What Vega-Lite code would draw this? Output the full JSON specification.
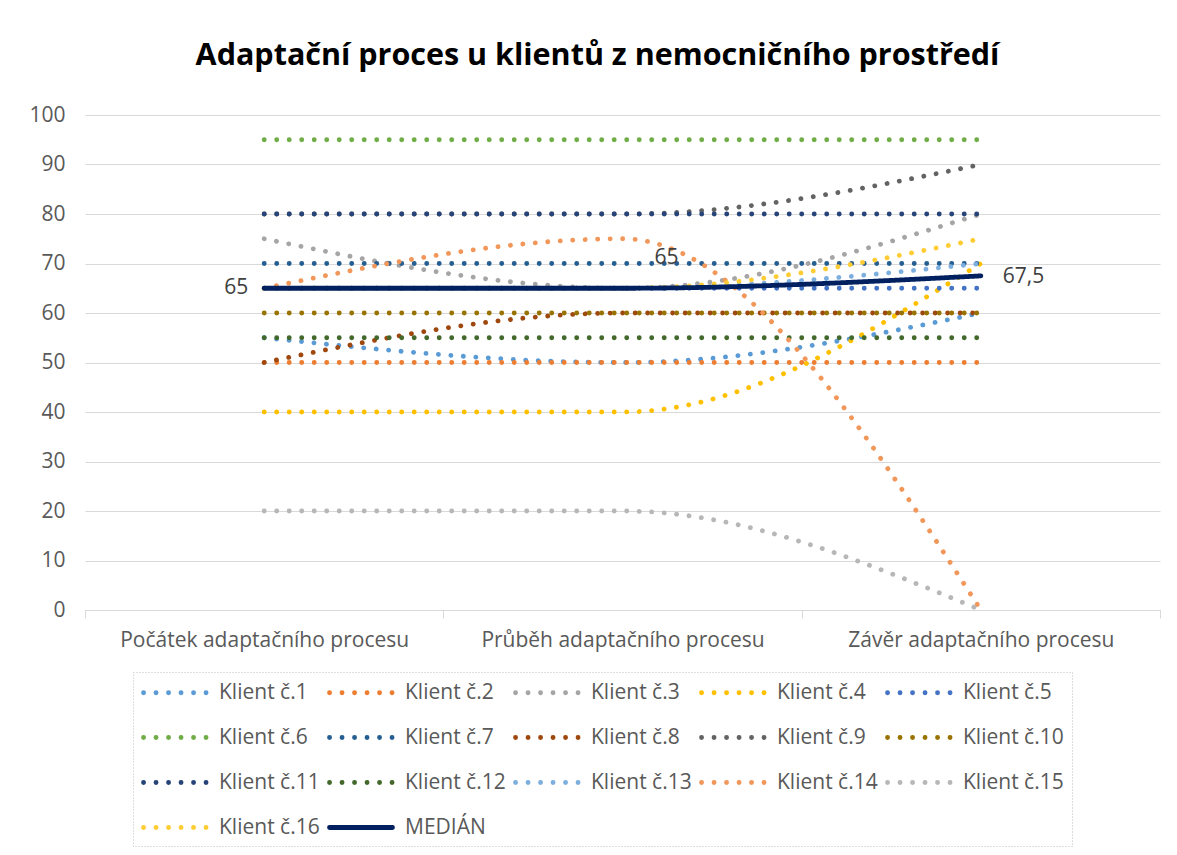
{
  "$schema": "https://vega.github.io/schema/vega-lite/v6.json",
  "width": 1075,
  "height": 495,
  "autosize": "none",
  "padding": {"left": 85, "top": 115, "right": 17, "bottom": 245},
  "background": "white",
  "title": {
    "text": "Adaptační proces u klientů z nemocničního prostředí",
    "font": "Open Sans",
    "fontSize": 30.5,
    "fontWeight": "bold",
    "color": "#000000",
    "anchor": "middle",
    "dx": -25,
    "offset": 33
  },
  "config": {
    "locale": {"number": {"decimal": ",", "thousands": " ", "grouping": [3], "currency": ["", " Kč"]}},
    "view": {"stroke": null},
    "font": "Open Sans",
    "axis": {"labelFont": "Open Sans", "labelFontSize": 21, "labelColor": "#595959", "gridColor": "#D9D9D9", "domainColor": "#D9D9D9", "tickColor": "#D9D9D9", "labelLimit": 500},
    "legend": {"strokeColor": "#BFBFBF", "strokeDash": [1, 2], "strokeWidth": 1}
  },
  "data": {
    "values": [
      {"klient": "Klient č.1", "faze": "Počátek adaptačního procesu", "hodnota": 55},
      {"klient": "Klient č.1", "faze": "Průběh adaptačního procesu", "hodnota": 50},
      {"klient": "Klient č.1", "faze": "Závěr adaptačního procesu", "hodnota": 60},
      {"klient": "Klient č.2", "faze": "Počátek adaptačního procesu", "hodnota": 50},
      {"klient": "Klient č.2", "faze": "Průběh adaptačního procesu", "hodnota": 50},
      {"klient": "Klient č.2", "faze": "Závěr adaptačního procesu", "hodnota": 50},
      {"klient": "Klient č.3", "faze": "Počátek adaptačního procesu", "hodnota": 75},
      {"klient": "Klient č.3", "faze": "Průběh adaptačního procesu", "hodnota": 65},
      {"klient": "Klient č.3", "faze": "Závěr adaptačního procesu", "hodnota": 80},
      {"klient": "Klient č.4", "faze": "Počátek adaptačního procesu", "hodnota": 40},
      {"klient": "Klient č.4", "faze": "Průběh adaptačního procesu", "hodnota": 40},
      {"klient": "Klient č.4", "faze": "Závěr adaptačního procesu", "hodnota": 70},
      {"klient": "Klient č.5", "faze": "Počátek adaptačního procesu", "hodnota": 65},
      {"klient": "Klient č.5", "faze": "Průběh adaptačního procesu", "hodnota": 65},
      {"klient": "Klient č.5", "faze": "Závěr adaptačního procesu", "hodnota": 65},
      {"klient": "Klient č.6", "faze": "Počátek adaptačního procesu", "hodnota": 95},
      {"klient": "Klient č.6", "faze": "Průběh adaptačního procesu", "hodnota": 95},
      {"klient": "Klient č.6", "faze": "Závěr adaptačního procesu", "hodnota": 95},
      {"klient": "Klient č.7", "faze": "Počátek adaptačního procesu", "hodnota": 70},
      {"klient": "Klient č.7", "faze": "Průběh adaptačního procesu", "hodnota": 70},
      {"klient": "Klient č.7", "faze": "Závěr adaptačního procesu", "hodnota": 70},
      {"klient": "Klient č.8", "faze": "Počátek adaptačního procesu", "hodnota": 50},
      {"klient": "Klient č.8", "faze": "Průběh adaptačního procesu", "hodnota": 60},
      {"klient": "Klient č.8", "faze": "Závěr adaptačního procesu", "hodnota": 60},
      {"klient": "Klient č.9", "faze": "Počátek adaptačního procesu", "hodnota": 80},
      {"klient": "Klient č.9", "faze": "Průběh adaptačního procesu", "hodnota": 80},
      {"klient": "Klient č.9", "faze": "Závěr adaptačního procesu", "hodnota": 90},
      {"klient": "Klient č.10", "faze": "Počátek adaptačního procesu", "hodnota": 60},
      {"klient": "Klient č.10", "faze": "Průběh adaptačního procesu", "hodnota": 60},
      {"klient": "Klient č.10", "faze": "Závěr adaptačního procesu", "hodnota": 60},
      {"klient": "Klient č.11", "faze": "Počátek adaptačního procesu", "hodnota": 80},
      {"klient": "Klient č.11", "faze": "Průběh adaptačního procesu", "hodnota": 80},
      {"klient": "Klient č.11", "faze": "Závěr adaptačního procesu", "hodnota": 80},
      {"klient": "Klient č.12", "faze": "Počátek adaptačního procesu", "hodnota": 55},
      {"klient": "Klient č.12", "faze": "Průběh adaptačního procesu", "hodnota": 55},
      {"klient": "Klient č.12", "faze": "Závěr adaptačního procesu", "hodnota": 55},
      {"klient": "Klient č.13", "faze": "Počátek adaptačního procesu", "hodnota": 65},
      {"klient": "Klient č.13", "faze": "Průběh adaptačního procesu", "hodnota": 65},
      {"klient": "Klient č.13", "faze": "Závěr adaptačního procesu", "hodnota": 70},
      {"klient": "Klient č.14", "faze": "Počátek adaptačního procesu", "hodnota": 65},
      {"klient": "Klient č.14", "faze": "Průběh adaptačního procesu", "hodnota": 75},
      {"klient": "Klient č.14", "faze": "Závěr adaptačního procesu", "hodnota": 0},
      {"klient": "Klient č.15", "faze": "Počátek adaptačního procesu", "hodnota": 20},
      {"klient": "Klient č.15", "faze": "Průběh adaptačního procesu", "hodnota": 20},
      {"klient": "Klient č.15", "faze": "Závěr adaptačního procesu", "hodnota": 0},
      {"klient": "Klient č.16", "faze": "Počátek adaptačního procesu", "hodnota": 65},
      {"klient": "Klient č.16", "faze": "Průběh adaptačního procesu", "hodnota": 65},
      {"klient": "Klient č.16", "faze": "Závěr adaptačního procesu", "hodnota": 75},
      {"klient": "MEDIÁN", "faze": "Počátek adaptačního procesu", "hodnota": 65},
      {"klient": "MEDIÁN", "faze": "Průběh adaptačního procesu", "hodnota": 65},
      {"klient": "MEDIÁN", "faze": "Závěr adaptačního procesu", "hodnota": 67.5}
    ]
  },
  "encoding": {
    "x": {
      "field": "faze", "type": "nominal", "sort": null,
      "scale": {"type": "band", "paddingInner": 0, "paddingOuter": 0},
      "axis": {"title": null, "labelAngle": 0, "tickBand": "extent", "tickSize": 8, "labelPadding": 11, "grid": false, "domain": true}
    },
    "y": {
      "field": "hodnota", "type": "quantitative",
      "scale": {"domain": [0, 100], "nice": false},
      "axis": {"title": null, "values": [0, 10, 20, 30, 40, 50, 60, 70, 80, 90, 100], "ticks": false, "domain": false, "labelPadding": 20, "grid": true}
    }
  },
  "layer": [
    {
      "transform": [{"filter": "datum.klient !== 'MEDIÁN'"}],
      "mark": {"type": "line", "interpolate": "monotone", "strokeCap": "round"},
      "encoding": {
        "color": {"field": "klient", "type": "nominal", "title": null,
          "scale": {
            "domain": ["Klient č.1", "Klient č.2", "Klient č.3", "Klient č.4", "Klient č.5", "Klient č.6", "Klient č.7", "Klient č.8", "Klient č.9", "Klient č.10", "Klient č.11", "Klient č.12", "Klient č.13", "Klient č.14", "Klient č.15", "Klient č.16", "MEDIÁN"],
            "range": ["#5B9BD5", "#ED7D31", "#A5A5A5", "#FFC000", "#4472C4", "#70AD47", "#255E91", "#9E480E", "#636363", "#997300", "#264478", "#43682B", "#7CAFDD", "#F1975A", "#B7B7B7", "#FFCD33", "#002060"]
          },
          "legend": {
            "orient": "none", "legendX": 48, "legendY": 557, "columns": 5, "direction": "horizontal",
            "symbolType": "M-1,0H5.3", "symbolSize": 400,
            "labelFont": "Open Sans", "labelFontSize": 21, "labelColor": "#595959",
            "labelOffset": 53, "columnPadding": -1, "rowPadding": 22, "padding": 8, "labelLimit": 200,
            "encoding": {"symbols": {"strokeCap": {"value": "round"}}}
          }
        },
        "strokeDash": {"field": "klient", "type": "nominal",
          "scale": {
            "domain": ["Klient č.1", "Klient č.2", "Klient č.3", "Klient č.4", "Klient č.5", "Klient č.6", "Klient č.7", "Klient č.8", "Klient č.9", "Klient č.10", "Klient č.11", "Klient č.12", "Klient č.13", "Klient č.14", "Klient č.15", "Klient č.16", "MEDIÁN"],
            "range": [[0.1, 12.4], [0.1, 12.4], [0.1, 12.4], [0.1, 12.4], [0.1, 12.4], [0.1, 12.4], [0.1, 12.4], [0.1, 12.4], [0.1, 12.4], [0.1, 12.4], [0.1, 12.4], [0.1, 12.4], [0.1, 12.4], [0.1, 12.4], [0.1, 12.4], [0.1, 12.4], [1, 0]]
          }
        },
        "strokeWidth": {"field": "klient", "type": "nominal",
          "scale": {
            "domain": ["Klient č.1", "Klient č.2", "Klient č.3", "Klient č.4", "Klient č.5", "Klient č.6", "Klient č.7", "Klient č.8", "Klient č.9", "Klient č.10", "Klient č.11", "Klient č.12", "Klient č.13", "Klient č.14", "Klient č.15", "Klient č.16", "MEDIÁN"],
            "range": [4.8, 4.8, 4.8, 4.8, 4.8, 4.8, 4.8, 4.8, 4.8, 4.8, 4.8, 4.8, 4.8, 4.8, 4.8, 4.8, 7]
          }
        }
      }
    },
    {
      "transform": [{"filter": "datum.klient === 'MEDIÁN'"}],
      "mark": {"type": "line", "interpolate": "monotone", "strokeCap": "round"},
      "encoding": {
        "color": {"field": "klient", "type": "nominal", "title": null},
        "strokeDash": {"field": "klient", "type": "nominal"},
        "strokeWidth": {"field": "klient", "type": "nominal"}
      }
    },
    {
      "transform": [{"filter": "datum.klient === 'MEDIÁN' && datum.faze === 'Počátek adaptačního procesu'"}],
      "mark": {"type": "text", "align": "right", "baseline": "middle", "dx": -16, "fontSize": 21, "color": "#404040", "font": "Open Sans"},
      "encoding": {"text": {"field": "hodnota", "type": "quantitative", "format": "~g"}}
    },
    {
      "transform": [{"filter": "datum.klient === 'MEDIÁN' && datum.faze === 'Průběh adaptačního procesu'"}],
      "mark": {"type": "text", "align": "left", "baseline": "middle", "dx": 32, "dy": -30, "fontSize": 21, "color": "#404040", "font": "Open Sans"},
      "encoding": {"text": {"field": "hodnota", "type": "quantitative", "format": "~g"}}
    },
    {
      "transform": [{"filter": "datum.klient === 'MEDIÁN' && datum.faze === 'Závěr adaptačního procesu'"}],
      "mark": {"type": "text", "align": "left", "baseline": "middle", "dx": 22, "dy": 1, "fontSize": 21, "color": "#404040", "font": "Open Sans"},
      "encoding": {"text": {"field": "hodnota", "type": "quantitative", "format": "~g"}}
    }
  ]
}
